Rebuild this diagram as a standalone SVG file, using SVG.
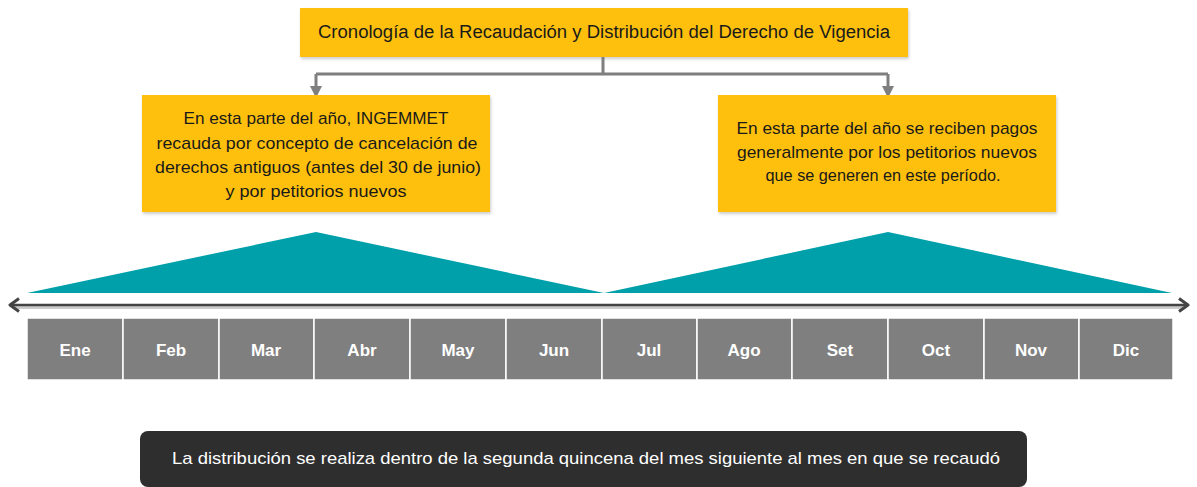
<svg xmlns="http://www.w3.org/2000/svg" width="1197" height="487" viewBox="0 0 1197 487">
<style>
.box{fill:#FEC011}
.t{font-family:"Liberation Sans",Arial,sans-serif;fill:#1a1a1a;text-anchor:middle}
.m{font-family:"Liberation Sans",Arial,sans-serif;font-weight:bold;font-size:17px;fill:#fff;text-anchor:middle}
.cell{fill:#7F7F7F;stroke:#ffffff;stroke-width:1.5}
.con{stroke:#7F7F7F;stroke-width:3;fill:none}
</style>
<defs>
<marker id="ah" viewBox="0 0 10 10" refX="5" refY="5" markerWidth="4" markerHeight="4" orient="auto"><path d="M0,0 L10,5 L0,10 z" fill="#7F7F7F"/></marker>
<marker id="tl" viewBox="0 0 14 16" refX="12" refY="8" markerWidth="14" markerHeight="16" orient="auto-start-reverse" markerUnits="userSpaceOnUse"><path d="M3,1.5 L12,8 L3,14.5" fill="none" stroke="#444" stroke-width="3" stroke-linejoin="round"/></marker>
<filter id="sh" x="-5%" y="-5%" width="110%" height="115%"><feDropShadow dx="1" dy="2" stdDeviation="1.5" flood-color="#000" flood-opacity="0.2"/></filter>
</defs>
<g id="title"><rect class="box" x="300" y="8" width="608" height="49" filter="url(#sh)"/><text class="t" x="604" y="38" font-size="18" textLength="572" lengthAdjust="spacingAndGlyphs">Cronología de la Recaudación y Distribución del Derecho de Vigencia</text></g>
<g id="connectors">
<path class="con" d="M603,57 V74 M316,74 H888"/>
<path class="con" d="M316,74 V92" marker-end="url(#ah)"/>
<path class="con" d="M888,74 V92" marker-end="url(#ah)"/>
</g>
<g id="left-note"><rect class="box" x="142" y="95" width="348" height="117" filter="url(#sh)"/>
<text class="t" font-size="17"><tspan x="316" y="124" textLength="265" lengthAdjust="spacingAndGlyphs">En esta parte del año, INGEMMET</tspan><tspan x="317" y="149" textLength="321" lengthAdjust="spacingAndGlyphs">recauda por concepto de cancelación de</tspan><tspan x="318" y="173" textLength="326" lengthAdjust="spacingAndGlyphs">derechos antiguos (antes del 30 de junio)</tspan><tspan x="316" y="197" textLength="181" lengthAdjust="spacingAndGlyphs">y por petitorios nuevos</tspan></text></g>
<g id="right-note"><rect class="box" x="718" y="95" width="338" height="117" filter="url(#sh)"/>
<text class="t" font-size="17"><tspan x="887" y="134" textLength="301" lengthAdjust="spacingAndGlyphs">En esta parte del año se reciben pagos</tspan><tspan x="887" y="158" textLength="300" lengthAdjust="spacingAndGlyphs">generalmente por los petitorios nuevos</tspan><tspan x="883" y="181" textLength="235" lengthAdjust="spacingAndGlyphs">que se generen en este período.</tspan></text></g>
<g id="triangles">
<polygon points="27,293 316,232 604,293" fill="#00A0AB"/>
<polygon points="604,293 888,232 1172,293" fill="#00A0AB"/>
</g>
<g id="axis">
<line x1="12" y1="307.5" x2="1186" y2="307.5" stroke="#cccccc" stroke-width="3"/>
<line x1="10" y1="305" x2="1188" y2="305" stroke="#444" stroke-width="2.5" marker-start="url(#tl)" marker-end="url(#tl)"/>
</g>
<g id="months">
<rect class="cell" x="27" y="318" width="96" height="62"/><text class="m" x="75" y="356">Ene</text>
<rect class="cell" x="123" y="318" width="96" height="62"/><text class="m" x="171" y="356">Feb</text>
<rect class="cell" x="219" y="318" width="95" height="62"/><text class="m" x="266" y="356">Mar</text>
<rect class="cell" x="314" y="318" width="96" height="62"/><text class="m" x="362" y="356">Abr</text>
<rect class="cell" x="410" y="318" width="96" height="62"/><text class="m" x="458" y="356">May</text>
<rect class="cell" x="506" y="318" width="96" height="62"/><text class="m" x="554" y="356">Jun</text>
<rect class="cell" x="602" y="318" width="95" height="62"/><text class="m" x="649" y="356">Jul</text>
<rect class="cell" x="697" y="318" width="95" height="62"/><text class="m" x="744" y="356">Ago</text>
<rect class="cell" x="792" y="318" width="96" height="62"/><text class="m" x="840" y="356">Set</text>
<rect class="cell" x="888" y="318" width="96" height="62"/><text class="m" x="936" y="356">Oct</text>
<rect class="cell" x="984" y="318" width="95" height="62"/><text class="m" x="1031" y="356">Nov</text>
<rect class="cell" x="1079" y="318" width="94" height="62"/><text class="m" x="1126" y="356">Dic</text>
</g>
<g id="footer"><rect x="140" y="431" width="887" height="56" rx="8" fill="#2E2E2E"/><text x="586" y="464" font-family="Liberation Sans,Arial,sans-serif" font-size="17" fill="#fff" text-anchor="middle" textLength="828" lengthAdjust="spacingAndGlyphs">La distribución se realiza dentro de la segunda quincena del mes siguiente al mes en que se recaudó</text></g>
</svg>
